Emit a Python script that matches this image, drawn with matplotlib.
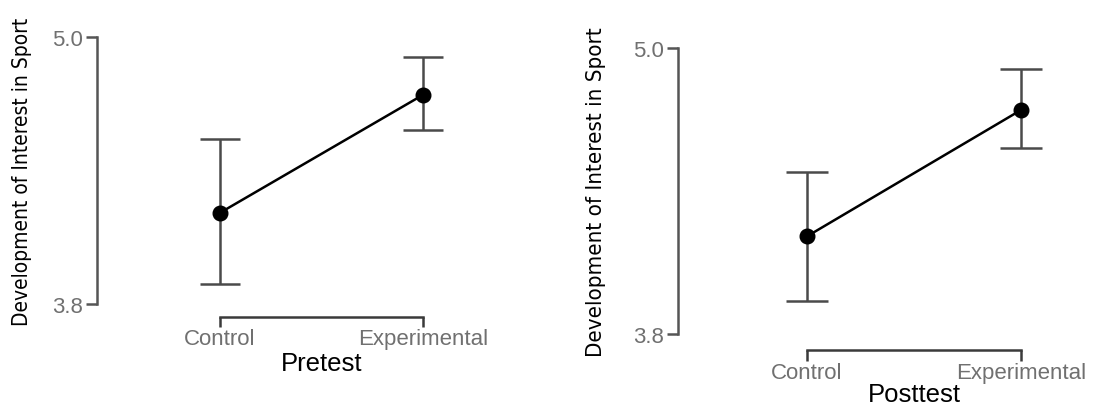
import matplotlib
matplotlib.use("Agg")
import matplotlib.pyplot as plt
import matplotlib.transforms as mtransforms
import numpy as np

groups = ["Control", "Experimental"]

pre_mean = [4.21, 4.74]
pre_lower = [3.89, 4.58]
pre_upper = [4.54, 4.91]

post_mean = [4.21, 4.74]
post_lower = [3.94, 4.58]
post_upper = [4.48, 4.91]

y_ticks = [3.8, 5.0]
y_ticklabels = ["3.8", "5.0"]

W, H = 1096, 410
GRAY = "#555555"
TICKGRAY = "#707070"

plt.rcParams["font.family"] = ["Liberation Sans", "DejaVu Sans"]


def axes_at(fig, left, top, right, bottom):
    # pixel box -> figure fraction
    return fig.add_axes([left / W, 1 - bottom / H, (right - left) / W, (bottom - top) / H])


def draw_panel(ax, means, lower, upper, xlabel, xlim, offset, tick_len, xlab_y, ylab_x,
               ylab_size, capsize):
    x = np.arange(len(groups))
    means = np.array(means)
    err = [means - np.array(lower), np.array(upper) - means]
    ax.errorbar(x, means, yerr=err, fmt="none", ecolor="#4a4a4a", elinewidth=1.8,
                capsize=capsize, capthick=1.8, clip_on=False, zorder=2)
    ax.plot(x, means, color="black", linewidth=1.8, zorder=3, clip_on=False)
    ax.plot(x, means, "o", color="black", markersize=10.5, zorder=4, clip_on=False)

    ax.set_xlim(*xlim)
    ax.set_ylim(3.8, 5.0)
    for side in ("top", "right"):
        ax.spines[side].set_visible(False)
    for side in ("left", "bottom"):
        ax.spines[side].set_color(GRAY)
        ax.spines[side].set_linewidth(1.8)
    ax.spines["bottom"].set_color("#3a3a3a")
    ax.spines["bottom"].set_position(("outward", offset))
    ax.spines["bottom"].set_bounds(0, 1)
    ax.spines["left"].set_bounds(3.8, 5.0)

    ax.set_xticks(x)
    ax.set_xticklabels(groups)
    ax.set_yticks(y_ticks)
    ax.set_yticklabels(y_ticklabels)
    ax.tick_params(axis="x", length=tick_len, width=1.8, color="#3a3a3a", pad=0.5,
                   labelsize=16, labelcolor=TICKGRAY)
    ax.tick_params(axis="y", length=8, width=1.8, color=GRAY, pad=2,
                   labelsize=16, labelcolor=TICKGRAY)

    trans = mtransforms.blended_transform_factory(ax.transData, ax.transAxes)
    ax.text(0.5, xlab_y, xlabel, transform=trans, ha="center", va="baseline",
            fontsize=18.5, color="black")
    ax.text(ylab_x, 0.5, "Development of Interest in Sport", transform=ax.transAxes,
            rotation=90, ha="center", va="center", fontsize=ylab_size, color="black",
            family="DejaVu Sans", fontstretch="condensed", fontweight="medium")
    ax.patch.set_alpha(0)


fig = plt.figure(figsize=(W / 100, H / 100), dpi=100)

ax1 = axes_at(fig, 97, 38, 490, 305)
draw_panel(ax1, pre_mean, pre_lower, pre_upper, "Pretest", (-0.606, 1.330), 9.4, 7.2,
           -0.247, -0.191, 15, 14.4)

ax2 = axes_at(fig, 678, 49, 1090, 335)
draw_panel(ax2, post_mean, post_lower, post_upper, "Posttest", (-0.603, 1.322), 11.5, 8,
           -0.236, -0.199, 16, 15)

fig.savefig("out.png", dpi=100)
